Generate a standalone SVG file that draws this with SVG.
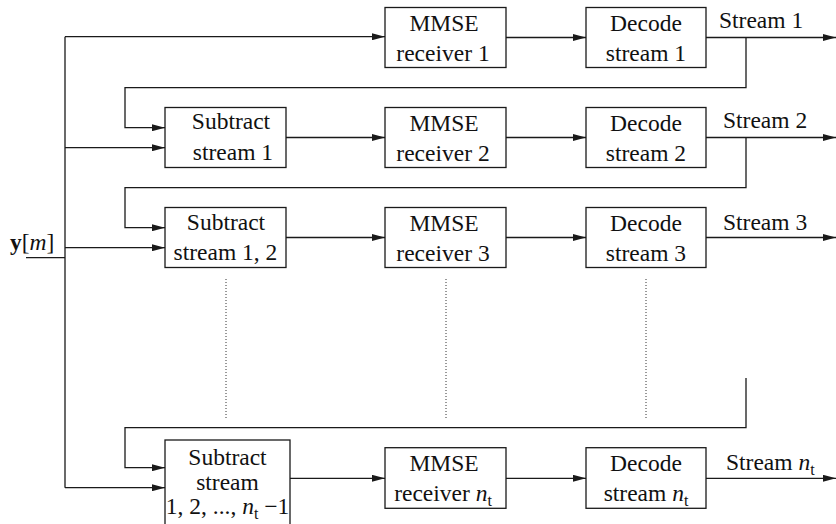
<svg xmlns="http://www.w3.org/2000/svg" width="836" height="524" viewBox="0 0 836 524">
<defs>
<marker id="ah" markerUnits="userSpaceOnUse" markerWidth="13" markerHeight="7" refX="13" refY="3.5" orient="auto">
<path d="M0,0 L13,3.5 L0,7 z" fill="#1a1a1a"/>
</marker>
</defs>
<style>
.box{fill:#fff;stroke:#1a1a1a;stroke-width:1.3}
.t{font-size:23.5px;fill:#111;text-anchor:middle}
.tl{font-size:23.5px;fill:#111}
.w{fill:none;stroke:#1a1a1a;stroke-width:1.3}
.a{fill:none;stroke:#1a1a1a;stroke-width:1.3;marker-end:url(#ah)}
.dot{fill:none;stroke:#333;stroke-width:1;stroke-dasharray:1 2}
.i{font-style:italic}
.s{font-size:16px}
</style>
<g id="connectors">
<path class="a" d="M65,36.7 H385"/>
<path class="w" d="M65,36.7 V487.7"/>
<path class="w" d="M26,257.7 H65"/>
<path class="a" d="M506,37.5 H586"/>
<path class="a" d="M706,37.5 H836"/>
<path class="a" d="M746,37.5 V87.7 H125 V127.7 H165"/>
<path class="a" d="M65,147.7 H165"/>
<path class="a" d="M286,137.5 H385"/>
<path class="a" d="M506,137.5 H586"/>
<path class="a" d="M706,137.5 H836"/>
<path class="a" d="M746,137.5 V187.7 H125 V227.7 H165"/>
<path class="a" d="M65,247.7 H165"/>
<path class="a" d="M286,237.5 H385"/>
<path class="a" d="M506,237.5 H586"/>
<path class="a" d="M706,237.5 H836"/>
<path class="dot" d="M226,279 V418 M446,279 V418 M646,279 V418"/>
<path class="a" d="M746,378 V427.7 H125 V467.7 H165"/>
<path class="a" d="M65,487.7 H165"/>
<path class="a" d="M290,478.3 H385"/>
<path class="a" d="M506,478.3 H586"/>
<path class="a" d="M706,478.3 H836"/>
</g>
<g id="nodes" font-family="Liberation Serif, Times New Roman, serif">
<g id="input"><text class="tl" x="10" y="250"><tspan font-weight="bold">y</tspan>[<tspan class="i">m</tspan>]</text></g>
<g id="mmse1"><rect class="box" x="385" y="7.5" width="121" height="60"/><text class="t" x="444" y="30.5">MMSE</text><text class="t" x="443" y="60.5">receiver 1</text></g>
<g id="decode1"><rect class="box" x="586" y="7.5" width="120" height="60"/><text class="t" x="646" y="30.5">Decode</text><text class="t" x="646" y="60.5">stream 1</text></g>
<g id="out1"><text class="tl" x="719" y="28">Stream 1</text></g>
<g id="sub1"><rect class="box" x="165" y="107.5" width="121" height="60"/><text class="t" x="231" y="128.5">Subtract</text><text class="t" x="233" y="159.5">stream 1</text></g>
<g id="mmse2"><rect class="box" x="385" y="107.5" width="121" height="60"/><text class="t" x="444" y="130.5">MMSE</text><text class="t" x="443" y="160.5">receiver 2</text></g>
<g id="decode2"><rect class="box" x="586" y="107.5" width="120" height="60"/><text class="t" x="646" y="130.5">Decode</text><text class="t" x="646" y="160.5">stream 2</text></g>
<g id="out2"><text class="tl" x="723" y="128.3">Stream 2</text></g>
<g id="sub2"><rect class="box" x="165" y="207.5" width="121" height="60"/><text class="t" x="226" y="229.5">Subtract</text><text class="t" x="225.5" y="260">stream 1, 2</text></g>
<g id="mmse3"><rect class="box" x="385" y="207.5" width="121" height="60"/><text class="t" x="444" y="230.5">MMSE</text><text class="t" x="443" y="260.5">receiver 3</text></g>
<g id="decode3"><rect class="box" x="586" y="207.5" width="120" height="60"/><text class="t" x="646" y="230.5">Decode</text><text class="t" x="646" y="260.5">stream 3</text></g>
<g id="out3"><text class="tl" x="723" y="230">Stream 3</text></g>
<g id="subn"><rect class="box" x="165" y="440" width="125" height="92"/><text class="t" x="227.5" y="465">Subtract</text><text class="t" x="227.5" y="489.5">stream</text><text class="t" x="227.5" y="513.5">1, 2, ..., <tspan class="i">n</tspan><tspan class="s" dy="5">t</tspan><tspan dy="-5"> −1</tspan></text></g>
<g id="mmsen"><rect class="box" x="385" y="447.7" width="121" height="60.6"/><text class="t" x="444" y="471">MMSE</text><text class="t" x="443" y="501">receiver <tspan class="i">n</tspan><tspan class="s" dy="5">t</tspan></text></g>
<g id="decoden"><rect class="box" x="586" y="447.7" width="120" height="60.6"/><text class="t" x="646" y="471">Decode</text><text class="t" x="646" y="501">stream <tspan class="i">n</tspan><tspan class="s" dy="5">t</tspan></text></g>
<g id="outn"><text class="tl" x="726" y="469.5">Stream <tspan class="i">n</tspan><tspan class="s" dy="5">t</tspan></text></g>
</g>
</svg>
